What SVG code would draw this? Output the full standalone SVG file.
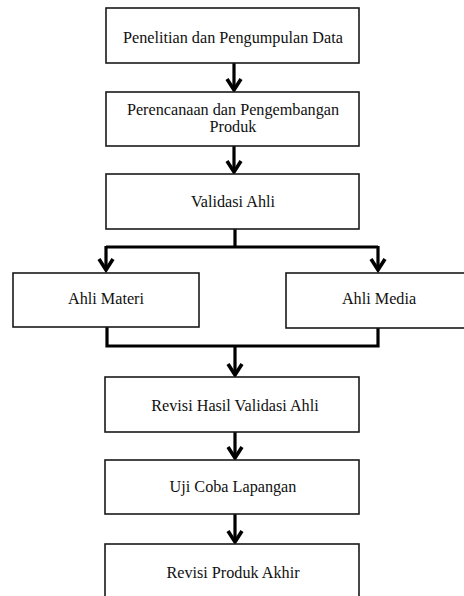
<svg xmlns="http://www.w3.org/2000/svg" width="464" height="596" viewBox="0 0 464 596">
<style>
.box{fill:#fff;stroke:#1a1a1a;stroke-width:1.6}
.t{font-family:"Liberation Serif","Times New Roman",serif;font-size:16.2px;fill:#111;text-anchor:middle}
.c{fill:none;stroke:#000;stroke-width:3.2}
.ah{fill:none;stroke:#000;stroke-width:3.6;stroke-linejoin:miter}
</style>
<rect width="464" height="596" fill="#fff"/>
<g id="connectors">
<path class="c" d="M234,63 V90"/>
<path class="ah" d="M227,79 L234,90 L241,79"/>
<path class="c" d="M234,146 V172"/>
<path class="ah" d="M227,161 L234,172 L241,161"/>
<path class="c" d="M235,229 V247 M106,247 H378 M106,246 V270 M378,246 V270"/>
<path class="ah" d="M99,259 L106,270 L113,259"/>
<path class="ah" d="M371,259 L378,270 L385,259"/>
<path class="c" d="M107,324 V346 H378 V324 M235,346 V375"/>
<path class="ah" d="M228,364 L235,375 L242,364"/>
<path class="c" d="M235,432 V458"/>
<path class="ah" d="M228,447 L235,458 L242,447"/>
<path class="c" d="M235,514 V542"/>
<path class="ah" d="M228,531 L235,542 L242,531"/>
</g>
<g id="n1"><rect class="box" x="106" y="8" width="253" height="55"/><text class="t" x="233" y="43">Penelitian dan Pengumpulan Data</text></g>
<g id="n2"><rect class="box" x="106" y="92" width="253" height="54"/><text class="t" x="233" y="115">Perencanaan dan Pengembangan</text><text class="t" x="233" y="132">Produk</text></g>
<g id="n3"><rect class="box" x="106" y="174" width="253" height="55"/><text class="t" x="233" y="207">Validasi Ahli</text></g>
<g id="n4"><rect class="box" x="13" y="273" width="186" height="54"/><text class="t" x="106" y="304">Ahli Materi</text></g>
<g id="n5"><rect class="box" x="286" y="273" width="190" height="55"/><text class="t" x="379" y="304">Ahli Media</text></g>
<g id="n6"><rect class="box" x="105" y="377" width="254" height="55"/><text class="t" x="235" y="411">Revisi Hasil Validasi Ahli</text></g>
<g id="n7"><rect class="box" x="105" y="460" width="254" height="54"/><text class="t" x="233" y="492">Uji Coba Lapangan</text></g>
<g id="n8"><rect class="box" x="105" y="544" width="254" height="60"/><text class="t" x="233" y="578">Revisi Produk Akhir</text></g>
</svg>
